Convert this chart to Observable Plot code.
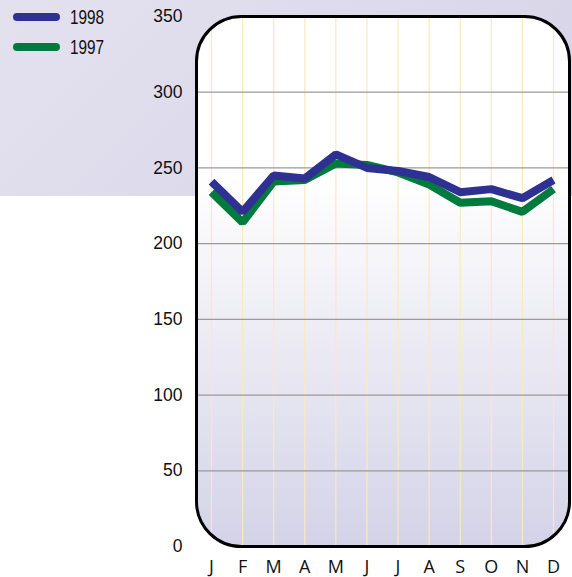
<!DOCTYPE html>
<html><head><meta charset="utf-8">
<script src="https://cdn.jsdelivr.net/npm/d3@7"></script>
<script src="https://cdn.jsdelivr.net/npm/@observablehq/plot@0.6"></script>
<style>
html,body{margin:0;padding:0;background:#fff;}
#wrap{position:relative;width:572px;height:577px;overflow:hidden;
  background:linear-gradient(135deg,#e4e1ef,#d6d3e7) no-repeat;background-size:100% 196px;}
#legend{position:absolute;left:13px;top:2px;font-family:"Liberation Sans",Arial,sans-serif;font-size:21px;color:#111;}
.item{display:flex;align-items:center;height:30px;}
.sw{width:47px;height:8px;border-radius:4px;margin-right:10px;flex:none;}
.item span{display:inline-block;transform:scaleX(0.73);transform-origin:left center;}
svg{position:absolute;left:0;top:0;}
</style></head>
<body><div id="wrap"><div id="legend"></div></div>
<script>
const months = ["J","F","M","A","M","J","J","A","S","O","N","D"];
const series = ["1998","1997"];
const colors = ["#2e3192","#007a3d"];
const v1998 = [241,221,245,243,259,250,248,244,234,236,230,242];
const v1997 = [234,214,241,242,253,252,247,239,227,228,221,236];
const yTicks = [0,50,100,150,200,250,300,350];
const gridY = [50,100,150,200,250,300];

const rows = [];
months.forEach((m,i)=>{ rows.push({i, m, year:"1997", v:v1997[i]}); });
months.forEach((m,i)=>{ rows.push({i, m, year:"1998", v:v1998[i]}); });
const idx = months.map((m,i)=>i);

const plot = Plot.plot({
  width:572, height:577,
  marginLeft:196, marginRight:3, marginTop:16, marginBottom:31,
  style:{background:"transparent", fontFamily:"Liberation Sans, Arial, sans-serif", fontSize:"16px", color:"#111"},
  x:{type:"linear", domain:[0,11], range:[211,553], axis:null, label:null},
  y:{domain:[0,350], axis:null, label:null},
  marks:[
    Plot.frame({fill:"url(#panelGrad)", rx:45, ry:45}),
    Plot.ruleX(idx,{x:d=>d, y1:0, y2:350, stroke:"#fbe9bd", strokeWidth:1.2, className:"vgrid"}),
    Plot.ruleY(gridY,{stroke:"#9a9a9a", strokeWidth:1.2}),
    Plot.line(rows.filter(d=>d.year==="1997"),{x:"i", y:"v", stroke:colors[1], strokeWidth:8, strokeLinejoin:"miter", strokeLinecap:"butt"}),
    Plot.line(rows.filter(d=>d.year==="1998"),{x:"i", y:"v", stroke:colors[0], strokeWidth:8, strokeLinejoin:"miter", strokeLinecap:"butt"}),
    Plot.frame({stroke:"#000", strokeWidth:3, rx:45, ry:45, fill:"none"}),
    Plot.axisY(yTicks,{tickSize:0, tickPadding:14, fontSize:17.5, label:null, fontFamily:"Liberation Sans, Arial, sans-serif", textAnchor:"end"}),
    Plot.axisX(idx,{tickSize:0, tickPadding:14, label:null, tickFormat:i=>months[i], fontSize:18, fontFamily:"Open Sans, sans-serif", fill:"#111"})
  ]
});

const svg = d3.select(plot);
const defs = svg.insert("defs",":first-child");
const g = defs.append("linearGradient").attr("id","panelGrad").attr("x1",0).attr("y1",0).attr("x2",0).attr("y2",1);
g.append("stop").attr("offset","0%").attr("stop-color","#ffffff");
g.append("stop").attr("offset","30%").attr("stop-color","#ffffff");
g.append("stop").attr("offset","100%").attr("stop-color","#d4d2e7");
defs.append("clipPath").attr("id","panelClip").append("rect")
  .attr("x",196).attr("y",16).attr("width",572-196-3).attr("height",577-16-31).attr("rx",45).attr("ry",45);
svg.selectAll(".vgrid").attr("clip-path","url(#panelClip)");

document.getElementById("wrap").appendChild(plot);

const leg = document.getElementById("legend");
series.forEach((s,k)=>{
  const it = document.createElement("div"); it.className="item";
  const sw = document.createElement("div"); sw.className="sw"; sw.style.background=colors[k];
  const t = document.createElement("span"); t.textContent=s;
  it.appendChild(sw); it.appendChild(t); leg.appendChild(it);
});
</script>
</body></html>
